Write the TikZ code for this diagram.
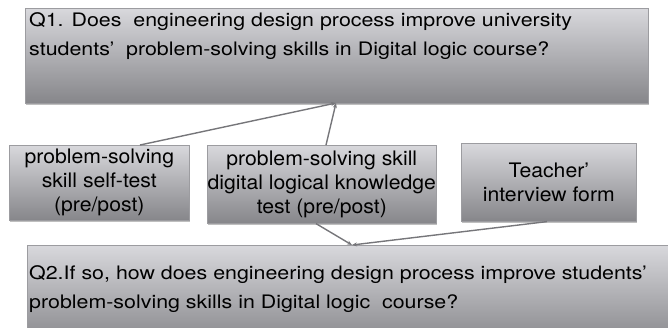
\documentclass[tikz,border=0pt]{standalone}
\usepackage{fontspec}
\setmainfont{TeX Gyre Heros}
\newfontfamily\qfont{TeX Gyre Heros}[FakeStretch=1.15]
\newfontfamily\bfont{TeX Gyre Heros}[FakeStretch=1.06]
\usetikzlibrary{arrows.meta,shadows}
\definecolor{boxtop}{HTML}{D8D8DC}
\definecolor{boxbot}{HTML}{86868A}
\definecolor{boxedge}{HTML}{9C9CA0}
\definecolor{linkgray}{HTML}{76767A}
\tikzset{
  greybox/.style={draw=boxedge, line width=0.6pt, top color=boxtop, bottom color=boxbot,
    drop shadow={shadow xshift=1pt, shadow yshift=-1.5pt, fill=black, opacity=0.25},
    inner sep=0pt, anchor=north west},
  qtext/.style={font=\qfont\fontsize{18.6}{29}\selectfont, align=left, anchor=north west, inner sep=0pt},
  btext/.style={font=\bfont\fontsize{20}{24}\selectfont, align=center, inner sep=0pt},
  link/.style={draw=linkgray, line width=1.4pt, -{Stealth[length=5pt,width=4pt]}}
}
\begin{document}
\begin{tikzpicture}[x=1pt,y=-1pt]
\useasboundingbox (0,0) rectangle (668,327);
\clip (0,0) rectangle (668,327);
% question boxes
\node[greybox, minimum width=623pt, minimum height=95pt] (q1) at (25,8) {};
\node[qtext] (q1t) at (29,12) {Q1. Does\ \ engineering design process improve university\\students’\ \ problem-solving skills in Digital logic course?};
\node[greybox, minimum width=680pt, minimum height=100pt] (q2) at (27,245) {};
\node[qtext] (q2t) at (29,265) {Q2.If so, how does engineering design process improve students’\\problem-solving skills in Digital logic\ \ course?};
% instrument boxes
\node[greybox, minimum width=180pt, minimum height=75pt] (b1) at (9,145) {};
\node[btext] (b1t) at (b1.center) {problem-solving\\skill self-test\\(pre/post)};
\node[greybox, minimum width=229pt, minimum height=78pt] (b2) at (207,145) {};
\node[btext] (b2t) at (b2.center) {problem-solving skill\\digital logical knowledge\\test (pre/post)};
\node[greybox, minimum width=175pt, minimum height=78pt] (b3) at (461,143) {};
\node[btext] (b3t) at (b3.center) {Teacher’\\interview form};
% junction points on the question boxes
\coordinate (j1) at (336,103);
\coordinate (j2) at (352,245);
% connectors
\draw[link] (b1.north west) ++(131,0) coordinate (b1top) -- (j1);
\draw[link] (b2.north west) ++(119,0) coordinate (b2top) -- (j1);
\draw[link] (b2.south west) ++(109,0) coordinate (b2bot) -- (j2);
\draw[link] (b3.south west) ++(86,0) coordinate (b3bot) -- (j2);
\end{tikzpicture}
\end{document}
